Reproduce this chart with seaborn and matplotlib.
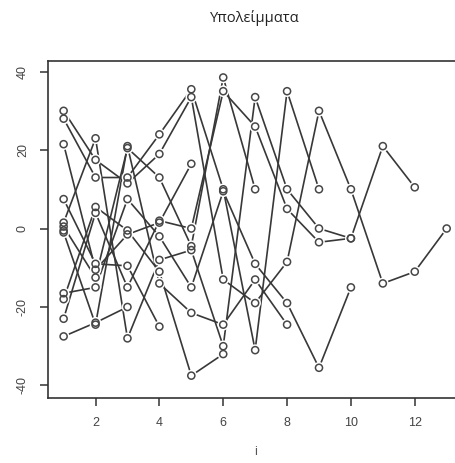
import pandas as pd
import matplotlib
matplotlib.use("Agg")
import matplotlib.pyplot as plt
import seaborn as sns

# residuals per group, indexed by i = 1..n
series_a = [30, 17.5, 11.5, 19, 33.5, -13, -19, -8.5, 30, 10, -14, -11, 0]
series_b = [1.5, 23, -28, -8, -5.5, -30, 33.5, 10, 0, -2.5, 21, 10.5]
series_c = [-23, 4, -15, 2, 0, 35, 26, 5, -3.5, -2.5]
series_d = [-16.5, -15, 7.5, -2, -15, 9.5, -9, -19, -35.5, -15]
series_e = [28, 13, 13, 24, 35.5, 10, -31, 35, 10]
series_f = [-1, -24.5, 21, -14, -21.5, -24.5, -13, -24.5]
series_g = [0.5, -12.5, 20.5, 13, -4.5, 38.5, 10]
series_h = [-18, 5.5, -0.5, -11, -37.5, -32]
series_i = [21.5, -10.5, -1.5, 1.5, 16.5]
series_j = [7.5, -9, -9.5, -25]
series_k = [-27.5, -24, -20]
series_l = [-0.5]

all_series = [series_a, series_b, series_c, series_d, series_e, series_f,
              series_g, series_h, series_i, series_j, series_k, series_l]

x_ticks = [2, 4, 6, 8, 10, 12]
y_ticks = [-40, -20, 0, 20, 40]
title = "Υπολείμματα"
x_label = "i"

rows = []
for g, vals in enumerate(all_series):
    for k, v in enumerate(vals):
        rows.append({"group": g, "i": k + 1, "res": v})
df = pd.DataFrame(rows)

sns.set_style("white")
plt.rcParams["font.family"] = ["Liberation Sans", "DejaVu Sans"]

fig = plt.figure(figsize=(4.55, 4.63), dpi=100)
ax = fig.add_axes([48.3 / 455, (463 - 398) / 463, (462 - 48.3) / 455, (398 - 61) / 463])

sns.lineplot(data=df, x="i", y="res", units="group", estimator=None,
             color="#383838", lw=1.2, ax=ax, legend=False)
# white halo gives R's type="b" gaps round the points
sns.scatterplot(data=df, x="i", y="res", s=70, color="white",
                edgecolor="none", ax=ax, zorder=3, legend=False)
sns.scatterplot(data=df, x="i", y="res", s=26, facecolor="none",
                edgecolor="#474747", linewidth=1.1, ax=ax, zorder=4, legend=False)

ax.set_xlim(0.52, 13.48)
ax.set_ylim(-43.2, 42.7)
ax.set_xticks(x_ticks)
ax.set_yticks(y_ticks)
ax.set_yticklabels([str(t) for t in y_ticks], rotation=90, va="center")
ax.tick_params(axis="both", direction="out", length=6, width=1.1,
               bottom=True, left=True, color="#333333", labelsize=9,
               labelcolor="#444444", pad=8)
for s in ax.spines.values():
    s.set_color("#333333")
    s.set_linewidth(1.2)
ax.set_xlabel(x_label, fontsize=9, color="#555555", labelpad=12)
ax.set_ylabel("")

fig.text(255 / 455, 1 - 18 / 463, title, ha="center", va="center",
         fontsize=10.5, family=["Open Sans", "DejaVu Sans"], color="#222222")

fig.savefig("out.png", dpi=100)
